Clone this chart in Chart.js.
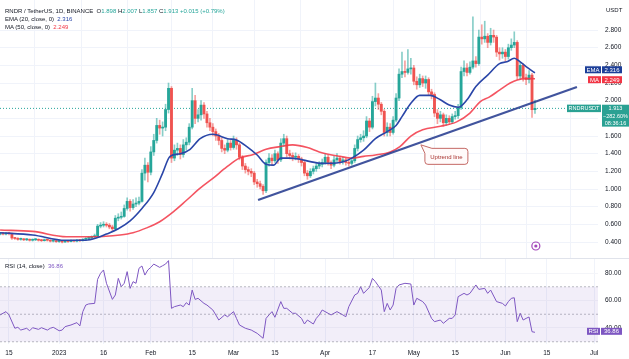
<!DOCTYPE html>
<html lang="en">
<head>
<meta charset="UTF-8">
<script src="https://cdn.jsdelivr.net/npm/chart.js"></script>
<title>RNDR / TetherUS</title>
<style>
  body { margin: 0; background: #fff; font-family: "Liberation Sans", Arial, sans-serif; }
  #wrap { position: relative; width: 629px; height: 359px; overflow: hidden; }
  canvas { position: absolute; left: 0; }
  .txt { position: absolute; font-size: 6px; line-height: 8px; color: #131722; white-space: nowrap; }
  .up { color: #26a69a; }
</style>
</head>
<body>
<div id="wrap">
  <canvas id="main" width="629" height="258" style="top:0"></canvas>
  <canvas id="rsi" width="629" height="101" style="top:258px"></canvas>
  <div style="position:absolute;left:0;top:258px;width:629px;height:1px;background:#e0e3eb"></div>
  <div class="txt" id="leg1" style="left:5px;top:7px"></div>
  <div class="txt" id="leg2" style="left:5px;top:15px"></div>
  <div class="txt" id="leg3" style="left:5px;top:23px"></div>
  <div class="txt" id="leg4" style="left:5px;top:262px"></div>
  <div class="txt" style="left:606px;top:6px">USDT</div>
</div>

<script>
  // daily candles, Dec 12 2022 .. Jun 11 2023 (day 0 = Dec 12)
  const opens = [0.49,0.50,0.49,0.50,0.495,0.445,0.44,0.43,0.435,0.425,
    0.43,0.42,0.425,0.43,0.42,0.415,0.425,0.42,0.41,0.415,
    0.405,0.41,0.40,0.41,0.405,0.415,0.41,0.42,0.415,0.43,
    0.44,0.445,0.46,0.47,0.58,0.59,0.60,0.59,0.57,0.55,
    0.67,0.68,0.69,0.78,0.86,0.79,0.83,0.84,0.86,1.18,
    1.27,1.19,1.42,1.55,1.72,1.69,1.70,1.90,2.14,1.35,
    1.44,1.46,1.39,1.50,1.53,1.70,2.00,1.80,1.84,1.95,
    1.85,1.75,1.70,1.65,1.60,1.55,1.46,1.44,1.52,1.47,
    1.55,1.50,1.36,1.26,1.22,1.20,1.18,1.08,1.06,1.03,
    0.98,1.30,1.35,1.32,1.40,1.33,1.52,1.57,1.40,1.38,
    1.36,1.37,1.34,1.30,1.18,1.15,1.20,1.23,1.26,1.28,
    1.30,1.36,1.30,1.27,1.33,1.35,1.31,1.33,1.30,1.29,
    1.32,1.46,1.56,1.58,1.60,1.77,1.70,1.99,2.03,1.96,
    1.88,1.64,1.70,1.64,1.78,2.03,2.30,2.33,2.32,2.36,
    2.37,2.22,2.18,2.25,2.20,2.24,2.10,2.07,1.86,1.80,
    1.84,1.75,1.80,1.76,1.82,1.83,1.92,2.33,2.37,2.32,
    2.38,2.45,2.42,2.72,2.70,2.73,2.66,2.74,2.72,2.55,
    2.53,2.55,2.50,2.60,2.63,2.66,2.28,2.40,2.26,2.24,
    2.29,1.898];
  const highs = [0.51,0.51,0.51,0.51,0.50,0.45,0.45,0.445,0.44,0.44,
    0.435,0.435,0.44,0.435,0.43,0.435,0.43,0.425,0.425,0.42,
    0.42,0.415,0.42,0.42,0.425,0.42,0.43,0.43,0.44,0.45,
    0.46,0.47,0.49,0.60,0.62,0.63,0.62,0.61,0.59,0.70,
    0.72,0.74,0.82,0.90,0.88,0.88,0.90,0.91,1.22,1.35,
    1.30,1.48,1.62,1.80,1.78,1.76,1.96,2.20,2.16,1.50,
    1.52,1.50,1.56,1.58,1.74,2.14,2.06,1.90,2.00,1.98,
    1.88,1.80,1.74,1.68,1.63,1.58,1.50,1.56,1.55,1.60,
    1.58,1.52,1.38,1.29,1.25,1.23,1.20,1.11,1.09,1.05,
    1.33,1.40,1.39,1.44,1.42,1.57,1.62,1.60,1.44,1.41,
    1.41,1.39,1.36,1.32,1.21,1.23,1.26,1.29,1.31,1.34,
    1.40,1.38,1.32,1.37,1.40,1.37,1.36,1.35,1.33,1.35,
    1.50,1.60,1.62,1.66,1.82,1.80,2.05,2.20,2.08,1.98,
    1.90,1.75,1.74,1.82,2.08,2.36,2.55,2.45,2.58,2.48,
    2.40,2.27,2.30,2.28,2.28,2.26,2.13,2.09,1.90,1.88,
    1.86,1.84,1.83,1.85,1.88,1.96,2.38,2.45,2.42,2.44,
    2.95,2.50,2.80,2.86,2.90,2.76,2.82,2.80,2.74,2.60,
    2.60,2.58,2.64,2.70,2.78,2.68,2.44,2.42,2.30,2.34,
    2.31,2.007];
  const lows = [0.48,0.48,0.48,0.48,0.43,0.43,0.42,0.42,0.415,0.415,
    0.41,0.41,0.415,0.41,0.405,0.41,0.41,0.40,0.40,0.395,
    0.395,0.39,0.395,0.395,0.40,0.40,0.40,0.405,0.41,0.42,
    0.43,0.44,0.45,0.46,0.56,0.57,0.57,0.55,0.53,0.54,
    0.64,0.66,0.68,0.76,0.75,0.77,0.80,0.82,0.85,1.10,
    1.08,1.16,1.38,1.52,1.62,1.60,1.66,1.86,1.30,1.32,
    1.38,1.34,1.36,1.44,1.50,1.68,1.74,1.76,1.78,1.80,
    1.70,1.66,1.60,1.55,1.50,1.42,1.40,1.42,1.44,1.45,
    1.45,1.33,1.22,1.18,1.16,1.14,1.05,1.02,1.00,0.94,
    0.96,1.26,1.27,1.30,1.29,1.31,1.48,1.36,1.34,1.32,
    1.33,1.30,1.26,1.15,1.11,1.13,1.17,1.20,1.23,1.25,
    1.28,1.27,1.23,1.25,1.30,1.28,1.28,1.27,1.26,1.27,
    1.30,1.43,1.53,1.54,1.58,1.65,1.68,1.94,1.90,1.84,
    1.60,1.60,1.60,1.62,1.76,2.00,2.26,2.27,2.30,2.30,
    2.18,2.13,2.15,2.16,2.14,2.06,2.02,1.82,1.74,1.76,
    1.71,1.72,1.73,1.74,1.79,1.80,1.90,2.28,2.28,2.30,
    2.36,2.38,2.40,2.64,2.66,2.60,2.63,2.66,2.50,2.46,
    2.48,2.44,2.47,2.57,2.60,2.24,2.24,2.22,2.18,2.20,
    1.81,1.857];
  const closes = [0.50,0.49,0.50,0.495,0.445,0.44,0.43,0.435,0.425,0.43,
    0.42,0.425,0.43,0.42,0.415,0.425,0.42,0.41,0.415,0.405,
    0.41,0.40,0.41,0.405,0.415,0.41,0.42,0.415,0.43,0.44,
    0.445,0.46,0.47,0.58,0.59,0.60,0.59,0.57,0.55,0.67,
    0.68,0.69,0.78,0.86,0.79,0.83,0.84,0.86,1.18,1.27,
    1.19,1.42,1.55,1.72,1.69,1.70,1.90,2.14,1.35,1.44,
    1.46,1.39,1.50,1.53,1.70,2.00,1.80,1.84,1.95,1.85,
    1.75,1.70,1.65,1.60,1.55,1.46,1.44,1.52,1.47,1.55,
    1.50,1.36,1.26,1.22,1.20,1.18,1.08,1.06,1.03,0.98,
    1.30,1.35,1.32,1.40,1.33,1.52,1.57,1.40,1.38,1.36,
    1.37,1.34,1.30,1.18,1.15,1.20,1.23,1.26,1.28,1.30,
    1.36,1.30,1.27,1.33,1.35,1.31,1.33,1.30,1.29,1.32,
    1.46,1.56,1.58,1.60,1.77,1.70,1.99,2.03,1.96,1.88,
    1.64,1.70,1.64,1.78,2.03,2.30,2.33,2.32,2.36,2.37,
    2.22,2.18,2.25,2.20,2.24,2.10,2.07,1.86,1.80,1.84,
    1.75,1.80,1.76,1.82,1.83,1.92,2.33,2.37,2.32,2.38,
    2.45,2.42,2.72,2.70,2.73,2.66,2.74,2.72,2.55,2.53,
    2.55,2.50,2.60,2.63,2.66,2.28,2.40,2.26,2.24,2.29,
    1.898,1.913];

  // EMA 20 and MA 50
  const emaDays = [0,11,22,29,33,36,40,44,48,52,55,57.5,61,64.3,67.7,72,77,80,83.5,87,90,92.5,95,98,101,105,109,115,119,123,127,131,134,136,139,142,145.5,149,152,155,158,161,165,169,171.5,174,176,178,181];
  const emaVals = [0.505,0.48,0.42,0.42,0.45,0.49,0.55,0.64,0.78,0.96,1.18,1.37,1.40,1.45,1.57,1.62,1.57,1.555,1.48,1.385,1.28,1.27,1.35,1.35,1.34,1.31,1.29,1.30,1.35,1.44,1.57,1.65,1.72,1.82,1.97,2.06,2.06,2.01,1.95,1.925,2.01,2.16,2.29,2.42,2.44,2.48,2.44,2.385,2.316];
  const maDays = [0,11,22.5,31.6,40.6,45,49.6,54,58.7,63,67.7,72,76.7,81,85.7,90,94.7,99,104,108,115,119,123,127,132,135.3,139,143,149,154.5,159,162.5,165.5,169,172.6,175,178,181];
  const maVals = [0.536,0.52,0.46,0.46,0.48,0.505,0.56,0.63,0.745,0.87,1.01,1.12,1.25,1.35,1.39,1.45,1.48,1.50,1.47,1.42,1.37,1.35,1.37,1.385,1.42,1.48,1.60,1.67,1.71,1.76,1.86,1.99,2.04,2.12,2.20,2.235,2.25,2.249];

  // RSI 14
  const rsiDays = [0,2,3,5,6,7,9,10,11,13,14,16,17,18,20,21,22,24,26,27,28,29,30,32,33,34,35,36,38,39,40,41,42,43,44,45,46,47,48,49,50,51,52,54,55,56,57,58,59,61,62,63,64,65,66,67,69,70,72,73,74,76,77,79,80,81,83,85,87,89,90,91,92,93,95,96,97,99,100,102,103,104,106,107,108,109,111,112,114,116,117,118,120,121,122,123,125,126,127,129,130,131,132,133,134,135,137,139,140,141,143,144,146,147,149,150,152,153,154,155,157,158,159,161,162,164,165,166,168,170,171,172,173,174,175,176,177,178,179,180,181];
  const rsiVals = [49.5,51.9,49.5,39.8,40.5,38.5,39.8,38,40.2,39,40.2,38.5,39.8,40.5,38,38.5,41,42.2,43.9,41.5,51.9,56.7,57.5,57.9,75.4,79.8,82.2,72.5,60.8,64,76.1,70,72.5,81,68.8,73.7,72.5,83.4,85.1,78.5,82.2,84.1,86.5,84.1,85.3,86.5,89,54.3,55.5,56.7,55.5,58.4,56.7,67.6,60.8,61.6,57.9,56.7,53.1,49.5,45.8,49.5,48.2,51.9,47,42.2,39.8,38.5,36.1,32.5,47,49.5,51.9,47.8,59.2,54.3,54.3,50.7,50.7,47,42.9,45.8,42.9,47,49.5,53.1,50.7,49.5,51.9,49.5,48.2,55.5,64,65.2,70,65.2,69.6,76.1,73.7,67.6,51.9,57.9,53.1,56.7,68.8,71.3,72.5,72,56.7,61.6,59.2,56.7,47,44.6,45.8,43.4,47,47,49.5,62.8,65.2,64,65.2,71.3,68.1,68.8,65.2,67.6,59.2,57.9,56,59.2,61.6,62,44.6,50.7,45.8,47,48,37.3,36.86];
  const rsiBands = [70, 50, 30];

  // trend line endpoints (day, price)
  const trendDays = [87.3, 195.2];
  const trendPrices = [0.875, 2.155];

  // axes
  const tickDays = [3, 20, 35, 51, 65, 79, 93, 110, 126, 140, 154, 171, 185, 201];
  const tickLabels = ['15', '2023', '16', 'Feb', '15', 'Mar', '15', 'Apr', '17', 'May', '15', 'Jun', '15', 'Jul'];
  const priceTicks = [0.4, 0.6, 0.8, 1.0, 1.2, 1.4, 1.6, 1.8, 2.0, 2.2, 2.4, 2.6, 2.8];
  const rsiTicks = [40, 60, 80];

  const xMin = -0.03, xMax = 202.33;
  const FONT = '"Liberation Sans", Arial, sans-serif';
  const UP = '#26a69a', DN = '#ef5350';
  const EMA_COL = '#2a46a8', MA_COL = 'rgba(242,54,69,0.85)', RSI_COL = '#7e57c2';

  Chart.defaults.font.family = FONT;
  Chart.defaults.animation = false;

  const last = closes.length - 1;
  const days = closes.map((_, i) => i);
  const isUp = i => closes[i] >= opens[i];
  const pts = (xs, ys) => xs.map((x, i) => ({ x: x, y: ys[i] }));

  // legends
  const f3 = v => v.toFixed(3);
  const chg = closes[last] - opens[last];
  document.getElementById('leg1').innerHTML =
    'RNDR / TetherUS, 1D, BINANCE&nbsp;&nbsp;O<span class="up">' + f3(opens[last]) +
    '</span>&nbsp;H<span class="up">' + f3(highs[last]) +
    '</span>&nbsp;L<span class="up">' + f3(lows[last]) +
    '</span>&nbsp;C<span class="up">' + f3(closes[last]) +
    '</span>&nbsp;<span class="up">+' + f3(chg) + ' (+' + (chg / opens[last] * 100).toFixed(2) + '%)</span>';
  document.getElementById('leg2').innerHTML =
    'EMA (20, close, 0)&nbsp;&nbsp;<span style="color:' + EMA_COL + '">' + f3(emaVals[emaVals.length - 1]) + '</span>';
  document.getElementById('leg3').innerHTML =
    'MA (50, close, 0)&nbsp;&nbsp;<span style="color:#f23645">' + f3(maVals[maVals.length - 1]) + '</span>';
  document.getElementById('leg4').innerHTML =
    'RSI (14, close)&nbsp;&nbsp;<span style="color:' + RSI_COL + '">' + rsiVals[rsiVals.length - 1].toFixed(2) + '</span>';

  function tag(ctx, x0, x1, yc, h, fill, lines, size) {
    ctx.fillStyle = fill;
    ctx.fillRect(x0, yc - h / 2, x1 - x0, h * lines.length);
    ctx.fillStyle = '#fff';
    ctx.font = (size || 6) + 'px ' + FONT;
    ctx.textAlign = 'center';
    ctx.textBaseline = 'middle';
    lines.forEach((t, k) => ctx.fillText(t, (x0 + x1) / 2, yc + k * h + 0.5));
  }

  const noPad = s => { s.paddingTop = 0; s.paddingBottom = 0; s.paddingLeft = 0; s.paddingRight = 0; };

  // callout, event marker and price scale tags
  const mainOverlay = {
    id: 'mainOverlay',
    afterDraw(chart) {
      const { ctx, scales: { x, y }, chartArea } = chart;
      ctx.save();
      // "Uptrend line" callout
      const ax = x.getPixelForValue(142.4), ay = y.getPixelForValue(1.50);
      const bx = ax + 4, by = ay + 3.5, bw = 43, bh = 16, r = 3;
      ctx.beginPath();
      ctx.moveTo(bx + 7, by);
      ctx.lineTo(bx + bw - r, by); ctx.arcTo(bx + bw, by, bx + bw, by + r, r);
      ctx.lineTo(bx + bw, by + bh - r); ctx.arcTo(bx + bw, by + bh, bx + bw - r, by + bh, r);
      ctx.lineTo(bx + r, by + bh); ctx.arcTo(bx, by + bh, bx, by + bh - r, r);
      ctx.lineTo(bx, by + 5);
      ctx.lineTo(ax, ay);
      ctx.closePath();
      ctx.fillStyle = '#fffafa';
      ctx.strokeStyle = '#c46a66';
      ctx.lineWidth = 1;
      ctx.fill(); ctx.stroke();
      ctx.fillStyle = '#a8322e';
      ctx.font = '6px ' + FONT;
      ctx.textAlign = 'center';
      ctx.textBaseline = 'middle';
      ctx.fillText('Uptrend line', bx + bw / 2, by + bh / 2 + 0.5);

      // event marker
      const ex = x.getPixelForValue(181.3), ey = y.getPixelForValue(0.355);
      ctx.strokeStyle = '#a347ba'; ctx.lineWidth = 1.2;
      ctx.beginPath(); ctx.arc(ex, ey, 4, 0, Math.PI * 2); ctx.stroke();
      ctx.fillStyle = '#a347ba';
      ctx.beginPath(); ctx.arc(ex, ey, 1.6, 0, Math.PI * 2); ctx.fill();

      // tags on the price scale
      const ax0 = chartArea.right;
      const emaY = y.getPixelForValue(emaVals[emaVals.length - 1]) - 3;
      const maY = y.getPixelForValue(maVals[maVals.length - 1]);
      const pY = y.getPixelForValue(closes[last]);
      tag(ctx, ax0 - 13, ax0 + 3, emaY, 7, '#1d3f99', ['EMA']);
      tag(ctx, ax0 + 4, ax0 + 24, emaY, 7, '#1d3f99', [f3(emaVals[emaVals.length - 1])]);
      tag(ctx, ax0 - 10, ax0 + 3, maY + 1, 7, '#f23645', ['MA']);
      tag(ctx, ax0 + 4, ax0 + 24, maY + 1, 7, '#f23645', [f3(maVals[maVals.length - 1])]);
      tag(ctx, ax0 - 31, ax0 + 3, pY, 7.5, '#2aa193', ['RNDRUSDT'], 5.5);
      tag(ctx, ax0 + 4, ax0 + 31, pY, 7.3, '#2aa193', [f3(closes[last]), '\u2212282.60%', '08:36:16'], 5.5);
      ctx.restore();
    }
  };

  new Chart(document.getElementById('main'), {
    type: 'bar',
    data: {
      datasets: [
        {
          type: 'line', data: pts(trendDays, trendPrices),
          borderColor: 'rgba(32,54,140,0.85)', borderWidth: 2.2, pointRadius: 0, order: 0
        },
        {
          type: 'line', data: pts(emaDays, emaVals),
          borderColor: EMA_COL, borderWidth: 1.6, pointRadius: 0,
          cubicInterpolationMode: 'monotone', order: 1
        },
        {
          type: 'line', data: pts(maDays, maVals),
          borderColor: MA_COL, borderWidth: 1.6, pointRadius: 0,
          cubicInterpolationMode: 'monotone', order: 2
        },
        {
          label: 'body', data: days.map(i => ({ x: i, y: [opens[i], closes[i]] })),
          backgroundColor: days.map(i => isUp(i) ? UP : DN),
          barThickness: 2.2, minBarLength: 1, grouped: false, order: 5
        },
        {
          label: 'wick', data: days.map(i => ({ x: i, y: [lows[i], highs[i]] })),
          backgroundColor: days.map(i => isUp(i) ? 'rgba(38,166,154,0.55)' : 'rgba(239,83,80,0.55)'),
          barThickness: 1, grouped: false, order: 6
        },
        {
          type: 'line', data: [{ x: xMin, y: closes[last] }, { x: xMax, y: closes[last] }],
          borderColor: UP, borderWidth: 1, borderDash: [1, 2], pointRadius: 0, order: 8
        }
      ]
    },
    options: {
      responsive: false,
      layout: { padding: 0 },
      plugins: { legend: { display: false }, tooltip: { enabled: false } },
      scales: {
        x: {
          type: 'linear', min: xMin, max: xMax, offset: false,
          afterBuildTicks: s => { s.ticks = tickDays.map(v => ({ value: v })); },
          grid: { color: '#f0f3fa', drawTicks: false },
          border: { display: false },
          ticks: { display: false },
          afterFit: s => { s.height = 0; noPad(s); }
        },
        y: {
          type: 'linear', position: 'right', min: 0.219, max: 3.14,
          afterBuildTicks: s => { s.ticks = priceTicks.map(v => ({ value: v })); },
          grid: { color: '#f0f3fa', drawTicks: false },
          border: { display: false },
          ticks: { padding: 7, color: '#131722', font: { size: 6.5 }, callback: v => v.toFixed(3) },
          afterFit: s => { s.width = 31; noPad(s); }
        }
      }
    },
    plugins: [mainOverlay]
  });

  const rsiOverlay = {
    id: 'rsiOverlay',
    afterDraw(chart) {
      const { ctx, scales: { y }, chartArea } = chart;
      ctx.save();
      const v = rsiVals[rsiVals.length - 1];
      const ry = y.getPixelForValue(v) - 1;
      tag(ctx, chartArea.right - 11, chartArea.right + 2, ry, 7, RSI_COL, ['RSI']);
      tag(ctx, chartArea.right + 3, chartArea.right + 24, ry, 7, RSI_COL, [v.toFixed(2)]);
      ctx.restore();
    }
  };

  const bandStyle = { borderColor: 'rgba(120,123,134,0.5)', borderWidth: 1, borderDash: [2, 2], pointRadius: 0 };

  new Chart(document.getElementById('rsi'), {
    type: 'line',
    data: {
      datasets: [
        Object.assign({ data: [{ x: xMin, y: rsiBands[0] }, { x: xMax, y: rsiBands[0] }], fill: false }, bandStyle),
        Object.assign({ data: [{ x: xMin, y: rsiBands[2] }, { x: xMax, y: rsiBands[2] }],
          fill: '-1', backgroundColor: 'rgba(126,87,194,0.1)' }, bandStyle),
        Object.assign({ data: [{ x: xMin, y: rsiBands[1] }, { x: xMax, y: rsiBands[1] }], fill: false }, bandStyle),
        {
          data: pts(rsiDays, rsiVals), borderColor: RSI_COL, borderWidth: 1,
          pointRadius: 0, tension: 0, fill: false
        }
      ]
    },
    options: {
      responsive: false,
      layout: { padding: 0 },
      plugins: { legend: { display: false }, tooltip: { enabled: false } },
      scales: {
        x: {
          type: 'linear', min: xMin, max: xMax,
          afterBuildTicks: s => { s.ticks = tickDays.map(v => ({ value: v })); },
          grid: { color: '#f0f3fa', drawTicks: false },
          border: { display: false },
          ticks: {
            autoSkip: false, maxRotation: 0, padding: 5, color: '#131722', font: { size: 6.5 },
            callback: v => tickLabels[tickDays.indexOf(v)]
          },
          afterFit: s => { s.height = 15; noPad(s); }
        },
        y: {
          type: 'linear', position: 'right', min: 28.36, max: 90.91,
          afterBuildTicks: s => { s.ticks = rsiTicks.map(v => ({ value: v })); },
          grid: { color: '#f4f5f9', drawTicks: false },
          border: { display: false },
          ticks: { padding: 7, color: '#131722', font: { size: 6.5 }, callback: v => v.toFixed(2) },
          afterFit: s => { s.width = 31; noPad(s); }
        }
      }
    },
    plugins: [rsiOverlay]
  });
</script>
</body>
</html>
